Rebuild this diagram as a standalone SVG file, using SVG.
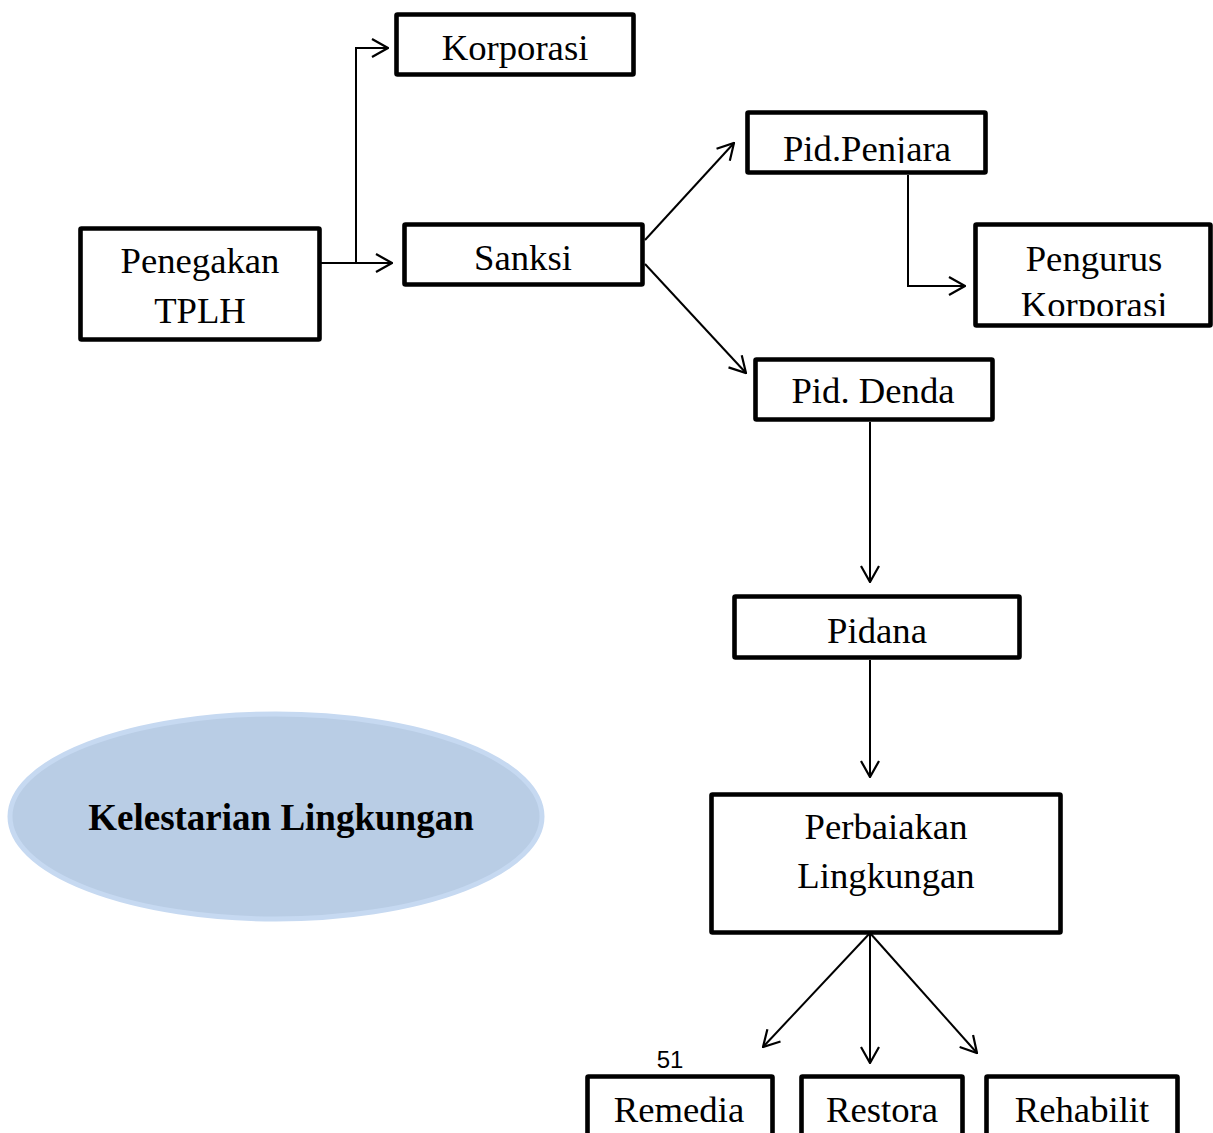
<svg xmlns="http://www.w3.org/2000/svg" width="1213" height="1133" viewBox="0 0 1213 1133">
<style>
.box{fill:#fff;stroke:#000;stroke-width:4.6;stroke-linejoin:round}
.t{font-family:"Liberation Serif","Times New Roman",serif;font-size:36.7px;fill:#000;text-anchor:middle}
.b{font-weight:bold;font-size:37px}
.c{fill:none;stroke:#000;stroke-width:2}
.pg{font-family:"Liberation Sans",Arial,sans-serif;font-size:24px;fill:#000;text-anchor:middle}
</style>
<defs>
<marker id="ah" viewBox="0 0 18 20" refX="17" refY="10" markerWidth="18" markerHeight="20" markerUnits="userSpaceOnUse" orient="auto">
<path d="M1,1 L17,10 L1,19" fill="none" stroke="#000" stroke-width="2.2"/>
</marker>
<clipPath id="cpPen"><rect x="747" y="112" width="239" height="51"/></clipPath>
<clipPath id="cpKor"><rect x="975" y="224" width="235" height="92"/></clipPath>
</defs>
<rect width="1213" height="1133" fill="#fff"/>

<g id="connectors">
<path class="c" d="M321,263 H392" marker-end="url(#ah)"/>
<path class="c" d="M356,263 V48 H388" marker-end="url(#ah)"/>
<path class="c" d="M645,240 L734,143" marker-end="url(#ah)"/>
<path class="c" d="M645,264 L746,373" marker-end="url(#ah)"/>
<path class="c" d="M908,175 V286 H965" marker-end="url(#ah)"/>
<path class="c" d="M870,422 V582" marker-end="url(#ah)"/>
<path class="c" d="M870,660 V777" marker-end="url(#ah)"/>
<path class="c" d="M870,933 L763,1047" marker-end="url(#ah)"/>
<path class="c" d="M870,933 V1063" marker-end="url(#ah)"/>
<path class="c" d="M870,933 L977,1053" marker-end="url(#ah)"/>
</g>

<g id="penegakan">
<rect class="box" x="80.5" y="228.5" width="239" height="111" rx="1"/>
<text class="t" x="200" y="273">Penegakan</text>
<text class="t" x="200" y="323">TPLH</text>
</g>
<g id="korporasi">
<rect class="box" x="396.5" y="14.5" width="237" height="60" rx="1"/>
<text class="t" x="515" y="60">Korporasi</text>
</g>
<g id="sanksi">
<rect class="box" x="404.5" y="224.5" width="238" height="60" rx="1"/>
<text class="t" x="523" y="270">Sanksi</text>
</g>
<g id="pid-penjara">
<rect class="box" x="747.5" y="112.5" width="238" height="60" rx="1"/>
<text class="t" x="867" y="161" clip-path="url(#cpPen)">Pid.Penjara</text>
</g>
<g id="pengurus-korporasi">
<rect class="box" x="975.5" y="224.5" width="235" height="101" rx="1"/>
<g clip-path="url(#cpKor)">
<text class="t" x="1094" y="271">Pengurus</text>
<text class="t" x="1094" y="317">Korporasi</text>
</g>
</g>
<g id="pid-denda">
<rect class="box" x="755.5" y="359.5" width="237" height="60" rx="1"/>
<text class="t" x="873" y="403">Pid. Denda</text>
</g>
<g id="pidana">
<rect class="box" x="734.5" y="596.5" width="285" height="61" rx="1"/>
<text class="t" x="877" y="643">Pidana</text>
</g>
<g id="perbaiakan">
<rect class="box" x="711.5" y="794.5" width="349" height="138" rx="1"/>
<text class="t" x="886" y="839">Perbaiakan</text>
<text class="t" x="886" y="888">Lingkungan</text>
</g>
<g id="remedia">
<rect class="box" x="587.5" y="1076.5" width="185" height="80" rx="1"/>
<text class="t" x="679" y="1122">Remedia</text>
</g>
<g id="restora">
<rect class="box" x="801.5" y="1076.5" width="161" height="80" rx="1"/>
<text class="t" x="882" y="1122">Restora</text>
</g>
<g id="rehabilit">
<rect class="box" x="986.5" y="1076.5" width="191" height="80" rx="1"/>
<text class="t" x="1082" y="1122">Rehabilit</text>
</g>
<g id="kelestarian">
<ellipse cx="276" cy="816.5" rx="266" ry="102.5" fill="#b9cde5" stroke="#c6d9f1" stroke-width="5"/>
<text class="t b" x="281" y="830">Kelestarian Lingkungan</text>
</g>
<text class="pg" x="670" y="1068">51</text>
</svg>
